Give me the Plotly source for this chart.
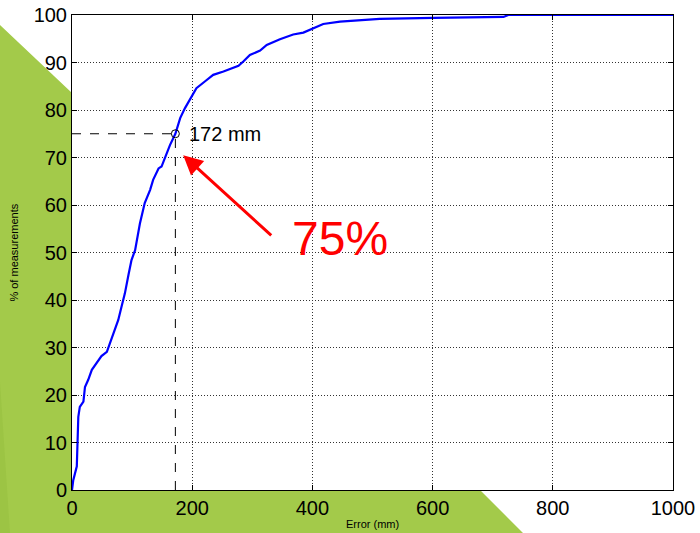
import plotly.graph_objects as go

# Cumulative error distribution
err_mm = [0, 2, 8, 9, 10.5, 13, 19, 21.6, 27, 33, 38, 49, 58, 63, 72, 77, 83, 88, 94, 99,
          105, 113, 121, 130, 135, 144, 149, 155, 163, 172, 180, 188, 196, 207, 221,
          235, 252, 277, 285, 296, 313, 324, 346, 368, 385, 401, 418, 446, 474, 512,
          601, 718, 726, 1000]
pct_meas = [0, 2, 5, 10, 15.4, 17.5, 18.6, 21.7, 23.2, 25.3, 26.3, 28.2, 29.1, 30.9, 33.7,
            35.8, 38.9, 41.4, 45.3, 48.4, 50.5, 56.1, 60.4, 63.2, 65.3, 67.7, 68.1, 70.2,
            72.6, 75, 78.3, 80.4, 82.1, 84.6, 86, 87.4, 88.1, 89.3, 90.2, 91.6, 92.5, 93.7,
            94.9, 95.9, 96.3, 97.2, 98.1, 98.6, 98.9, 99.2, 99.4, 99.6, 100, 100]

mark_x = 172
mark_y = 75
mark_label = "172 mm"
big_label = "75%"
x_ticks = [0, 200, 400, 600, 800, 1000]
y_ticks = [0, 10, 20, 30, 40, 50, 60, 70, 80, 90, 100]

FONT = "Liberation Sans, Arial, sans-serif"
GREEN = "#A3CA4A"

fig = go.Figure()
fig.add_trace(go.Scatter(x=err_mm, y=pct_meas, mode="lines",
                         line=dict(color="#0000FF", width=2.2), showlegend=False))
fig.add_trace(go.Scatter(x=[mark_x], y=[mark_y], mode="markers",
                         marker=dict(symbol="circle-open", size=8, color="black",
                                     line=dict(width=1, color="black")),
                         showlegend=False))

# dashed guide lines
fig.add_shape(type="line", xref="x", yref="y", x0=0, x1=mark_x, y0=mark_y, y1=mark_y,
              line=dict(color="black", width=1, dash="dash"))
fig.add_shape(type="line", xref="x", yref="y", x0=mark_x, x1=mark_x, y0=0, y1=mark_y,
              line=dict(color="black", width=1, dash="dash"))

# decorative green background outside plot area (paper coordinates)
fig.add_shape(type="path", xref="paper", yref="paper", layer="below",
              path="M -0.1198 0.9789 L 0 0.8358 L 0 0 L 0.6789 0 L 0.7504 -0.0905 "
                   "L -0.1198 -0.0905 Z",
              fillcolor=GREEN, line=dict(width=0))
fig.add_shape(type="path", xref="paper", yref="paper", layer="below",
              path="M -0.1198 0.2274 L -0.1032 -0.0905 L -0.1198 -0.0905 Z",
              fillcolor="#9CC444", line=dict(width=0))

fig.add_annotation(x=192, y=mark_y, xref="x", yref="y", text=mark_label,
                   showarrow=False, xanchor="left", yanchor="middle",
                   font=dict(family=FONT, size=20, color="black"))
fig.add_annotation(x=446, y=53, xref="x", yref="y", text=big_label,
                   showarrow=False, xanchor="center", yanchor="middle",
                   font=dict(family=FONT, size=48, color="#FF0000"))
fig.add_annotation(x=185, y=70.5, xref="x", yref="y", ax=334, ay=53.3,
                   axref="x", ayref="y", text="", showarrow=True,
                   arrowhead=2, arrowsize=1.3, arrowwidth=3, arrowcolor="#FF0000")

# axis titles as paper annotations for precise placement
fig.add_annotation(x=0.5, y=-0.072, xref="paper", yref="paper", text="Error (mm)",
                   showarrow=False, xanchor="center", yanchor="middle",
                   font=dict(family=FONT, size=11, color="black"))
fig.add_annotation(x=-0.098, y=0.5, xref="paper", yref="paper", text="% of measurements",
                   showarrow=False, xanchor="center", yanchor="middle", textangle=-90,
                   font=dict(family=FONT, size=11, color="black"))

axis_common = dict(showline=True, linecolor="black", linewidth=1, mirror="allticks",
                   ticks="inside", ticklen=5, tickcolor="black", showgrid=True,
                   gridcolor="#333333", griddash="1px,2px", gridwidth=1, zeroline=False,
                   automargin=False,
                   tickfont=dict(family=FONT, size=20, color="black"))

fig.update_xaxes(range=[0, 1000], tickvals=x_ticks, ticktext=[str(v) for v in x_ticks],
                 **axis_common)
fig.update_yaxes(range=[0, 100], tickvals=y_ticks, ticktext=[str(v) for v in y_ticks],
                 **axis_common)

fig.update_layout(width=700, height=533, margin=dict(l=72, r=27, t=15, b=43),
                  paper_bgcolor="white", plot_bgcolor="white",
                  font=dict(family=FONT, color="black"), showlegend=False)

fig.write_html("out.html")
